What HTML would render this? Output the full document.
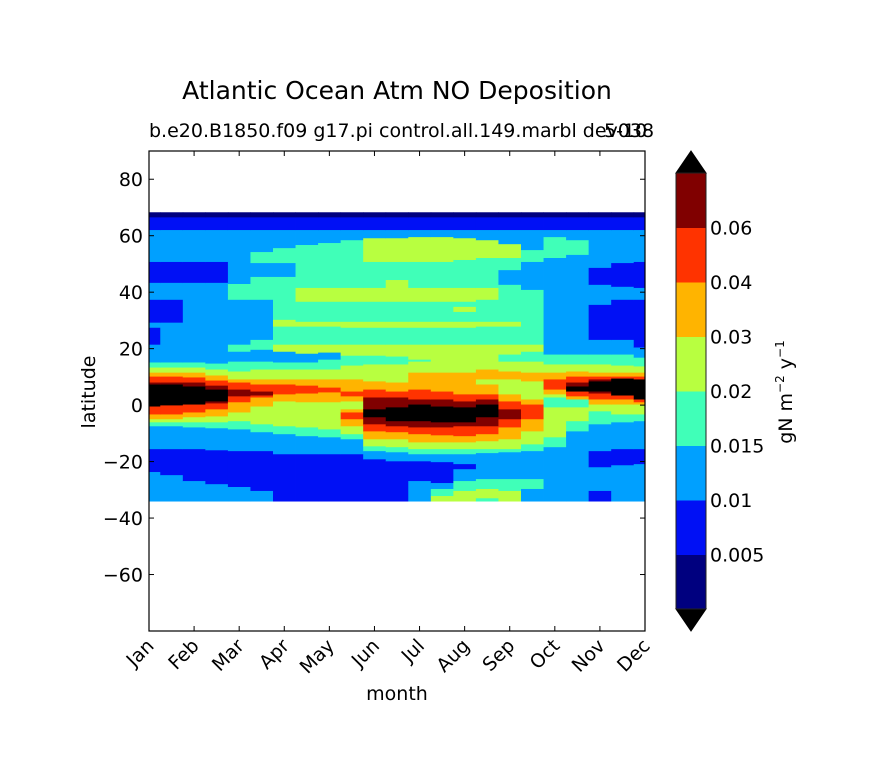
<!DOCTYPE html>
<html><head><meta charset="utf-8">
<style>
html,body{margin:0;padding:0;background:#fff;}
svg{display:block;font-family:"DejaVu Sans","Liberation Sans",sans-serif;}
</style></head>
<body>
<svg id="chart" width="876" height="783" viewBox="0 0 876 783" xmlns="http://www.w3.org/2000/svg">
  <rect x="0" y="0" width="876" height="783" fill="#fff"/>
  <text x="397" y="99" font-size="25" text-anchor="middle" fill="#000">Atlantic Ocean Atm NO Deposition</text>
  <text x="149" y="137" font-size="19" fill="#000">b.e20.B1850.f09 g17.pi control.all.149.marbl dev038</text>
  <text x="604" y="137" font-size="19" fill="#000">5-10</text>
  <g id="plot"></g>
  <g id="axes"></g>
  <g id="cbar"></g>
  <text x="397" y="700" font-size="19" text-anchor="middle">month</text>
  <text x="0" y="0" font-size="19" text-anchor="middle" transform="translate(95,392) rotate(-90)">latitude</text>
  <text x="0" y="0" font-size="19" text-anchor="middle" transform="translate(792,392) rotate(-90)">gN m<tspan font-size="12" dy="-8">−2</tspan><tspan dy="8"> y</tspan><tspan font-size="12" dy="-8">−1</tspan></text>
</svg>
<script>
const months = ["Jan","Feb","Mar","Apr","May","Jun","Jul","Aug","Sep","Oct","Nov","Dec"];
const latTicks = [80,60,40,20,0,-20,-40,-60];
const levelBounds = [0.005,0.01,0.015,0.02,0.03,0.04,0.06];
const levelLabels = ["0.005","0.01","0.015","0.02","0.03","0.04","0.06"];
const levelColors = ["#00007f","#0010f5","#00a0ff","#40ffb8","#b8ff40","#ffb400","#ff3300","#800000","#000000"];
const dataTopLat = 68.3;
// column positions in months (half-month steps, 0 = Jan, 11 = Dec)
const colMonths = [0,0.5,1,1.5,2,2.5,3,3.5,4,4.5,5,5.5,6,6.5,7,7.5,8,8.5,9,9.5,10,10.5,11];
// each column: [levelIndex, bottomLat, levelIndex, bottomLat, ...] from north to south
const c0 = [0,66.5, 1,62, 2,50.7, 1,43.3, 2,37.3, 1,29.2, 2,27.4, 1,21.4, 2,15.1, 3,13.3, 4,11.5, 5,10.1, 6,8.0, 7,7.3, 8,-0.5, 6,-3.3, 5,-5.0, 4,-6.1, 3,-7.5, 2,-15.6, 1,-23.7, 2,-34];
const c1 = [0,66.5, 1,62, 2,50.7, 1,43.3, 2,37.3, 1,29.2, 2,15.1, 3,13.3, 4,11.5, 5,10.1, 6,8.0, 7,7.3, 8,-0.1, 6,-3.3, 5,-5.0, 4,-6.1, 3,-7.5, 2,-15.6, 1,-24.8, 2,-34];
const c2 = [0,66.5, 1,62, 2,50.7, 1,43.3, 2,15.1, 3,13.3, 4,11.5, 5,9.8, 6,8.0, 7,6.6, 8,0.2, 6,-2.6, 5,-4.3, 4,-6.1, 3,-7.9, 2,-15.6, 1,-26.9, 2,-34];
const c3 = [0,66.5, 1,62, 2,50.7, 1,43.3, 2,14.7, 3,12.6, 4,10.5, 5,8.7, 6,6.9, 7,5.5, 8,1.3, 7,0.6, 6,-1.5, 5,-4.0, 4,-6.1, 3,-8.2, 2,-16.0, 1,-28.0, 2,-34];
const c4 = [0,66.5, 1,62, 2,42.9, 3,37.3, 2,21.4, 3,18.9, 2,15.4, 3,11.9, 4,9.1, 5,8.0, 6,5.5, 7,3.1, 6,1.0, 5,-2.6, 4,-5.7, 3,-8.6, 2,-16.3, 1,-29.0, 2,-34];
const c5 = [0,66.5, 1,62, 2,54.2, 3,50.3, 2,45.4, 3,37.3, 2,23.1, 3,19.6, 2,15.4, 3,12.6, 4,9.1, 5,7.3, 6,4.8, 7,3.4, 6,2.7, 5,-0.5, 4,-6.8, 3,-9.6, 2,-16.3, 1,-30.4, 2,-34];
const c6 = [0,66.5, 1,62, 2,55.6, 3,50.3, 2,45.4, 3,30.2, 4,27.8, 3,21.4, 4,18.9, 2,15.1, 3,12.6, 4,9.1, 5,7.3, 6,3.8, 5,1.3, 4,-7.5, 3,-10.3, 2,-17.4, 1,-34];
const c7 = [0,66.5, 1,62, 2,56.7, 3,41.5, 4,36.6, 3,29.5, 4,27.8, 3,21.4, 4,18.2, 2,15.1, 3,12.6, 4,9.1, 5,6.9, 6,4.1, 5,1.0, 4,-7.9, 3,-11.0, 2,-17.4, 1,-34];
const c8 = [0,66.5, 1,62, 2,57.4, 3,41.5, 4,36.6, 3,29.5, 4,27.8, 3,21.4, 4,18.6, 2,16.1, 3,12.6, 4,9.1, 5,6.2, 6,4.5, 5,1.0, 4,-8.6, 3,-11.4, 2,-17.4, 1,-34];
const c9 = [0,66.5, 1,62, 2,58.4, 3,41.5, 4,36.6, 3,29.5, 4,27.4, 3,21.4, 4,17.5, 3,14.0, 4,9.1, 5,4.8, 6,3.1, 5,1.3, 4,-1.5, 5,-2.6, 6,-5.0, 5,-7.5, 4,-10.3, 3,-12.1, 2,-17.4, 1,-34];
const c10 = [0,66.5, 1,62, 2,59.1, 4,50.7, 3,41.5, 4,36.6, 3,29.5, 4,27.4, 3,21.4, 4,17.5, 3,14.4, 4,8.4, 5,5.5, 6,2.7, 7,-1.5, 8,-4.3, 7,-6.8, 6,-9.3, 5,-12.1, 4,-14.6, 3,-16.3, 2,-19.2, 1,-34];
const c11 = [0,66.5, 1,62, 2,59.1, 4,50.7, 3,44.3, 4,36.6, 3,29.5, 4,27.4, 3,21.4, 4,17.2, 3,14.4, 4,8.0, 5,4.8, 6,2.7, 7,-0.8, 8,-5.7, 7,-7.5, 6,-9.6, 5,-12.1, 4,-14.9, 3,-16.7, 2,-19.9, 1,-34];
const c12 = [0,66.5, 1,62, 2,59.5, 4,50.7, 3,41.5, 4,36.6, 3,29.5, 4,27.4, 3,21.4, 4,16.1, 3,15.4, 4,11.5, 5,5.5, 6,2.0, 7,0.2, 8,-5.7, 7,-7.9, 6,-10.3, 5,-13.2, 4,-15.6, 3,-17.4, 2,-19.9, 1,-26.9, 2,-34];
const c13 = [0,66.5, 1,62, 2,59.5, 4,50.7, 3,41.5, 4,36.6, 3,29.5, 4,27.4, 3,21.4, 4,11.5, 5,4.8, 6,2.0, 7,-0.5, 8,-6.1, 7,-7.9, 6,-10.7, 5,-13.2, 4,-15.6, 3,-17.4, 2,-20.2, 1,-27.6, 2,-29.7, 3,-32.2, 4,-34];
const c14 = [0,66.5, 1,62, 2,59.1, 4,51.4, 3,41.5, 4,36.6, 3,34.8, 4,33.0, 3,29.5, 4,27.4, 3,21.4, 4,11.5, 5,3.8, 6,1.3, 7,-0.8, 8,-6.1, 7,-7.5, 6,-11.0, 5,-13.2, 4,-15.6, 3,-17.4, 2,-20.9, 1,-22.7, 2,-26.9, 3,-30.4, 4,-34];
const c15 = [0,66.5, 1,62, 2,58.4, 4,52.1, 3,41.5, 4,37.3, 3,29.5, 4,27.8, 3,21.4, 4,12.6, 5,9.1, 4,7.3, 5,3.8, 6,2.0, 7,0.2, 8,-4.3, 7,-7.5, 6,-10.3, 5,-12.8, 4,-15.6, 3,-17.0, 2,-26.2, 3,-29.7, 4,-33.0, 3,-34];
const c16 = [0,66.5, 1,62, 2,57.0, 4,52.1, 3,47.8, 2,42.6, 3,29.5, 4,27.8, 3,21.4, 4,17.9, 3,15.4, 4,11.9, 5,9.1, 4,3.8, 5,1.3, 6,-1.5, 7,-5.0, 6,-7.9, 5,-12.1, 4,-15.6, 3,-16.7, 2,-26.2, 3,-30.4, 4,-34];
const c17 = [0,66.5, 1,62, 2,54.9, 3,50.7, 2,40.8, 3,21.4, 4,18.9, 3,15.4, 4,11.5, 5,8.4, 4,2.0, 5,0.2, 6,-5.0, 5,-9.3, 4,-13.9, 3,-16.3, 2,-26.2, 3,-29.7, 2,-34];
const c18 = [0,66.5, 1,62, 2,59.5, 3,52.1, 2,17.9, 3,14.4, 4,11.5, 5,9.1, 6,5.5, 5,3.8, 4,2.7, 3,-0.8, 4,-11.4, 3,-14.9, 2,-34];
const c19 = [0,66.5, 1,62, 2,58.4, 3,53.2, 2,17.9, 3,14.4, 4,11.9, 5,10.1, 6,8.0, 7,6.6, 8,4.8, 6,3.1, 5,2.0, 3,-0.8, 4,-5.7, 3,-9.3, 2,-34];
const c20 = [0,66.5, 1,62, 2,48.6, 1,42.6, 2,35.5, 1,23.1, 2,17.9, 3,14.4, 4,11.5, 5,10.1, 6,9.1, 7,8.4, 8,4.8, 7,4.1, 6,2.0, 5,0.2, 4,-2.2, 3,-6.8, 2,-16.3, 1,-22.0, 2,-30.4, 1,-34];
const c21 = [0,66.5, 1,62, 2,50.3, 1,41.9, 2,37.3, 1,23.1, 2,17.9, 3,14.0, 4,11.5, 5,10.1, 6,9.4, 8,3.4, 6,2.0, 5,0.2, 4,-3.3, 3,-6.1, 2,-15.6, 1,-21.3, 2,-34];
const c22 = [0,66.5, 1,62, 2,50.7, 1,41.5, 2,37.3, 1,20.4, 2,16.8, 3,13.7, 4,11.5, 5,10.1, 6,9.1, 8,2.0, 6,1.0, 5,0.2, 4,-3.3, 3,-5.7, 2,-15.6, 1,-20.9, 2,-34];
const columns = [c0,c1,c2,c3,c4,c5,c6,c7,c8,c9,c10,c11,c12,c13,c14,c15,c16,c17,c18,c19,c20,c21,c22];

const NS = "http://www.w3.org/2000/svg";
const PL = 149, PR = 645, PT = 151, PB = 631;
const latMin = -80, latMax = 90;
function xScale(m){ return PL + m * (PR - PL) / 11; }
function yScale(lat){ return PT + (latMax - lat) * (PB - PT) / (latMax - latMin); }
function mk(tag, attrs, parent){
  const e = document.createElementNS(NS, tag);
  for (const k in attrs) e.setAttribute(k, attrs[k]);
  parent.appendChild(e);
  return e;
}
const plot = document.getElementById("plot");
const halfW = (xScale(0.5) - xScale(0)) / 2;
columns.forEach(function(col, ci){
  const xc = xScale(colMonths[ci]);
  const x0 = Math.max(PL, xc - halfW), x1 = Math.min(PR, xc + halfW);
  let top = dataTopLat;
  for (let i = 0; i < col.length; i += 2) {
    const lvl = col[i], bot = col[i+1];
    const y0 = yScale(top), y1 = yScale(bot);
    const r = mk("rect", {x: x0.toFixed(2), y: y0.toFixed(2), width: (x1 - x0 + 0.4).toFixed(2), height: (y1 - y0 + 0.4).toFixed(2), fill: levelColors[lvl]}, plot);
    
    
    top = bot;
  }
});

const axes = document.getElementById("axes");
const frame = mk("rect", {x: PL, y: PT, width: PR - PL, height: PB - PT, fill: "none", stroke: "#000", "stroke-width": 1.2}, axes);


latTicks.forEach(function(v){
  const y = yScale(v);
  mk("line", {x1: PL, x2: PL + 5, y1: y, y2: y, stroke: "#000"}, axes);
  mk("line", {x1: PR - 5, x2: PR, y1: y, y2: y, stroke: "#000"}, axes);
  const t = mk("text", {x: PL - 6, y: y + 7, "font-size": 19, "text-anchor": "end"}, axes);
  t.textContent = v < 0 ? "\u2212" + Math.abs(v) : String(v);
  
  
});
months.forEach(function(m, i){
  const x = xScale(i);
  mk("line", {x1: x, x2: x, y1: PB, y2: PB - 5, stroke: "#000"}, axes);
  mk("line", {x1: x, x2: x, y1: PT, y2: PT + 5, stroke: "#000"}, axes);
  const t = mk("text", {x: 0, y: 0, "font-size": 19, "text-anchor": "end", transform: "translate(" + (x + 6) + "," + 647 + ") rotate(-45)"}, axes);
  t.textContent = m;
  
  
});

const cbar = document.getElementById("cbar");
const CX0 = 676, CX1 = 706, CT = 173, CB = 609;
const nb = levelColors.length - 1;
const bh = (CB - CT) / nb;
for (let i = 0; i < nb; i++) {
  const y0 = CB - (i + 1) * bh;
  const r = mk("rect", {x: CX0, y: y0, width: CX1 - CX0, height: bh + 0.5, fill: levelColors[i]}, cbar);
  
  
}
const triTop = mk("polygon", {points: CX0 + "," + CT + " " + CX1 + "," + CT + " " + ((CX0 + CX1) / 2) + ",151", fill: levelColors[8], stroke: "#000"}, cbar);


const triBot = mk("polygon", {points: CX0 + "," + CB + " " + CX1 + "," + CB + " " + ((CX0 + CX1) / 2) + ",631", fill: "#000", stroke: "#000"}, cbar);


mk("rect", {x: CX0, y: CT, width: CX1 - CX0, height: CB - CT, fill: "none", stroke: "#222", "stroke-width": 1}, cbar);
levelBounds.forEach(function(v, i){
  const y = CB - (i + 1) * bh;
  const t = mk("text", {x: CX1 + 4, y: y + 7, "font-size": 19}, cbar);
  t.textContent = levelLabels[i];
  
  
});
</script>
</body></html>
